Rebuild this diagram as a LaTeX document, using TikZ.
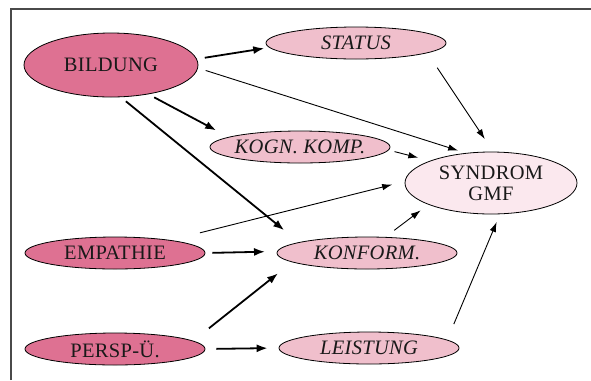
\documentclass[tikz,border=0pt]{standalone}
\usepackage{fontspec}
\setmainfont{Liberation Serif}[LetterSpace=1.5]
\usetikzlibrary{shapes.geometric,arrows.meta}
\definecolor{darkpink}{HTML}{DE7192}
\definecolor{midpink}{HTML}{F0BFCC}
\definecolor{palepink}{HTML}{FBE8EE}
\definecolor{framegray}{HTML}{4A4A4A}
\tikzset{
  oval/.style={ellipse, draw=black, line width=0.8bp, inner sep=0pt,
    font=\fontsize{20.5bp}{21bp}\selectfont, text=black!90},
  bigoval/.style={oval, fill=darkpink},
  smalloval/.style={oval, fill=darkpink, minimum width=180bp, minimum height=32bp},
  medoval/.style={oval, fill=midpink, minimum width=180bp, minimum height=32bp,
    font=\fontsize{20.5bp}{21bp}\selectfont\itshape},
  thick arrow/.style={line width=1.8bp, -{Latex[length=11bp,width=8bp]}},
  thin arrow/.style={line width=0.9bp, -{Latex[length=10bp,width=6.5bp]}},
}
\newcommand{\zw}[1]{\makebox[0pt]{#1}}
\begin{document}
\begin{tikzpicture}[x=1bp,y=-1bp]
\useasboundingbox (0,0) rectangle (591,380);
\draw[framegray, line width=1.5bp] (11,380) -- (11,9) -- (591,9);

\node[bigoval, minimum width=174bp, minimum height=64bp] (B) at (111,65) {\zw{BILDUNG}};
\node[medoval] (ST) at (356,43) {\zw{STATUS}};
\node[medoval] (KO) at (300,147) {\zw{KOGN. KOMP.}};
\node[oval, fill=palepink, minimum width=172bp, minimum height=62bp, align=center] (SY) at (491,183) {\zw{SYNDROM}\\\zw{GMF}};
\node[smalloval] (EM) at (115,253) {\zw{EMPATHIE}};
\node[medoval] (KF) at (367,253) {\zw{KONFORM.}};
\node[smalloval] (PE) at (115,349) {\zw{PERSP-Ü.}};
\node[medoval] (LE) at (369,348) {\zw{LEISTUNG}};

\draw[thick arrow, shorten <=8bp, shorten >=5bp] (B.4) -- (ST.183);
\draw[thin arrow, shorten <=8bp, shorten >=8bp] (B.-2.4) -- (SY.130.7);
\draw[thick arrow, shorten <=6.5bp, shorten >=14bp] (B.-38.2) -- (KO.172.9);
\draw[thick arrow, shorten <=6.5bp, shorten >=19bp] (B.-73.9) -- (KF.171.7);
\draw[thin arrow, shorten <=17.6bp, shorten >=15bp] (ST.-8.6) -- (SY.86.3);
\draw[thin arrow, shorten <=6bp, shorten >=12bp] (KO.-2.4) -- (SY.160.1);
\draw[thin arrow, shorten <=30bp, shorten >=13bp] (EM.13.7) -- (SY.179.4);
\draw[thick arrow, shorten <=7bp, shorten >=12bp] (EM.0.6) -- (KF.179.4);
\draw[thin arrow, shorten <=11bp, shorten >=9.5bp] (KF.41.5) -- (SY.199.7);
\draw[thick arrow, shorten <=20bp, shorten >=18bp] (PE.6.5) -- (KF.187.7);
\draw[thick arrow, shorten <=11bp, shorten >=11bp] (PE.0.6) -- (LE.180);
\draw[thin arrow, shorten <=17bp, shorten >=8.4bp] (LE.6.1) -- (SY.-74.2);
\end{tikzpicture}
\end{document}
